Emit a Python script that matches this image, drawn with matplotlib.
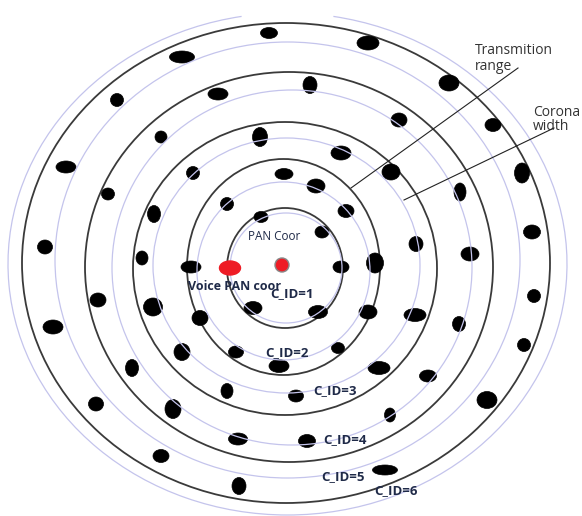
import matplotlib
matplotlib.use("Agg")
import matplotlib.pyplot as plt
from matplotlib.patches import Ellipse, Arc

# ---- data (pixel-space diagram coordinates) ----
ring_cx = [285, 283.5, 285, 289, 286]
ring_cy = [268, 267, 268.5, 267, 263]
ring_w = [116, 193, 304, 408, 528]
ring_h = [120, 216, 293, 390, 480]

lav_cx = [286, 283.5, 286.5, 292, 287.5, 287.5]
lav_cy = [268, 271, 265.5, 267.5, 260, 264]
lav_w = [112, 173, 267, 360, 465, 559]
lav_h = [110, 178, 255, 355, 436, 502]

dot_x = [269, 182, 117, 218, 66, 260, 161, 193, 108, 154, 227, 284, 261, 45, 142,
         368, 310, 449, 399, 493, 341, 391, 522, 316, 460, 346, 322, 532, 416, 470, 375, 341,
         191, 98, 53, 153, 200, 253, 182, 236, 132, 279, 227, 296, 96, 173, 238, 161, 239,
         534, 318, 368, 415, 459, 524, 338, 379, 428, 487, 390, 307, 385]
dot_y = [33, 57, 100, 94, 167, 137, 137, 173, 194, 214, 204, 174, 217, 247, 258,
         43, 85, 83, 120, 125, 153, 172, 173, 186, 192, 211, 232, 232, 244, 254, 263, 267,
         267, 300, 327, 307, 318, 308, 352, 352, 368, 366, 391, 396, 404, 409, 439, 456, 486,
         296, 312, 312, 315, 324, 345, 348, 368, 376, 400, 415, 441, 470]
dot_w = [17, 25, 13, 20, 20, 15, 12, 13, 13, 13, 13, 18, 14, 15, 12,
         22, 14, 20, 16, 16, 20, 18, 15, 18, 12, 16, 14, 17, 14, 18, 17, 16,
         20, 16, 20, 19, 16, 18, 16, 15, 13, 20, 12, 15, 15, 16, 19, 16, 14,
         13, 19, 18, 22, 13, 13, 13, 22, 17, 20, 11, 17, 25]
dot_h = [11, 12, 13, 12, 12, 19, 12, 13, 12, 17, 13, 11, 11, 14, 14,
         14, 17, 16, 14, 13, 14, 16, 20, 14, 18, 13, 12, 14, 15, 14, 20, 12,
         12, 14, 14, 18, 15, 13, 17, 12, 17, 13, 15, 12, 14, 19, 12, 13, 17,
         13, 13, 14, 13, 15, 13, 11, 13, 12, 17, 14, 13, 10]

red_x = [230, 282]
red_y = [268, 265]
red_w = [21, 14]
red_h = [14, 14]

cid_labels = ["C_ID=1", "C_ID=2", "C_ID=3", "C_ID=4", "C_ID=5", "C_ID=6"]
cid_x = [270, 265, 313, 323, 321, 374]
cid_y = [294, 353, 391, 440, 477, 491]

plt.rcParams['font.family'] = ['Open Sans', 'DejaVu Sans']

fig = plt.figure(figsize=(5.82, 5.16), dpi=100)
ax = fig.add_axes([0, 0, 1, 1])
ax.set_xlim(0, 582)
ax.set_ylim(516, 0)
ax.set_aspect('auto')
ax.axis('off')

# black rings
for cx, cy, w, h in zip(ring_cx, ring_cy, ring_w, ring_h):
    ax.add_patch(Ellipse((cx, cy), w, h, fill=False, edgecolor='#3a3a3a', lw=1.3, zorder=2))

# dots
for x, y, w, h in zip(dot_x, dot_y, dot_w, dot_h):
    ax.add_patch(Ellipse((x, y), w, h, facecolor='black', edgecolor='black', lw=0.5, zorder=3))

# lavender rings (drawn over dots)
lav_col = '#c4c4ec'
for i, (cx, cy, w, h) in enumerate(zip(lav_cx, lav_cy, lav_w, lav_h)):
    if i == len(lav_cx) - 1:
        # outermost ring broken at the top
        ax.add_patch(Arc((cx, cy), w, h, theta1=280.5, theta2=619.5, edgecolor=lav_col, lw=0.9, zorder=4))
    else:
        ax.add_patch(Ellipse((cx, cy), w, h, fill=False, edgecolor=lav_col, lw=0.9, zorder=4))

# red coordinators
ax.add_patch(Ellipse((red_x[0], red_y[0]), red_w[0], red_h[0], facecolor='#ee1c25', edgecolor='#ee1c25', zorder=5))
ax.add_patch(Ellipse((red_x[1], red_y[1]), red_w[1], red_h[1], facecolor='#ee1c25', edgecolor='#888888', lw=1.0, zorder=5))

txt_col = '#1f2a48'
ax.text(248, 236, "PAN Coor", fontsize=8.5, color=txt_col, ha='left', va='center', zorder=6)
ax.text(188, 286, "Voice PAN coor", fontsize=9, fontweight='bold', color=txt_col, ha='left', va='center', zorder=6)
for lab, x, y in zip(cid_labels, cid_x, cid_y):
    ax.text(x, y, lab, fontsize=9.5, fontweight='bold', color=txt_col, ha='left', va='center', zorder=6)

ax.text(475, 51, "Transmition", fontsize=10, color='#333333', ha='left', va='center', zorder=6)
ax.text(475, 66, "range", fontsize=10, color='#333333', ha='left', va='center', zorder=6)
ax.text(533, 113, "Corona", fontsize=10, color='#333333', ha='left', va='center', zorder=6)
ax.text(533, 127, "width", fontsize=10, color='#333333', ha='left', va='center', zorder=6)

ax.plot([351, 518], [188, 68], color='#222222', lw=0.8, zorder=6)
ax.plot([404, 554], [200, 128], color='#222222', lw=0.8, zorder=6)

fig.savefig("out.png", dpi=100)
